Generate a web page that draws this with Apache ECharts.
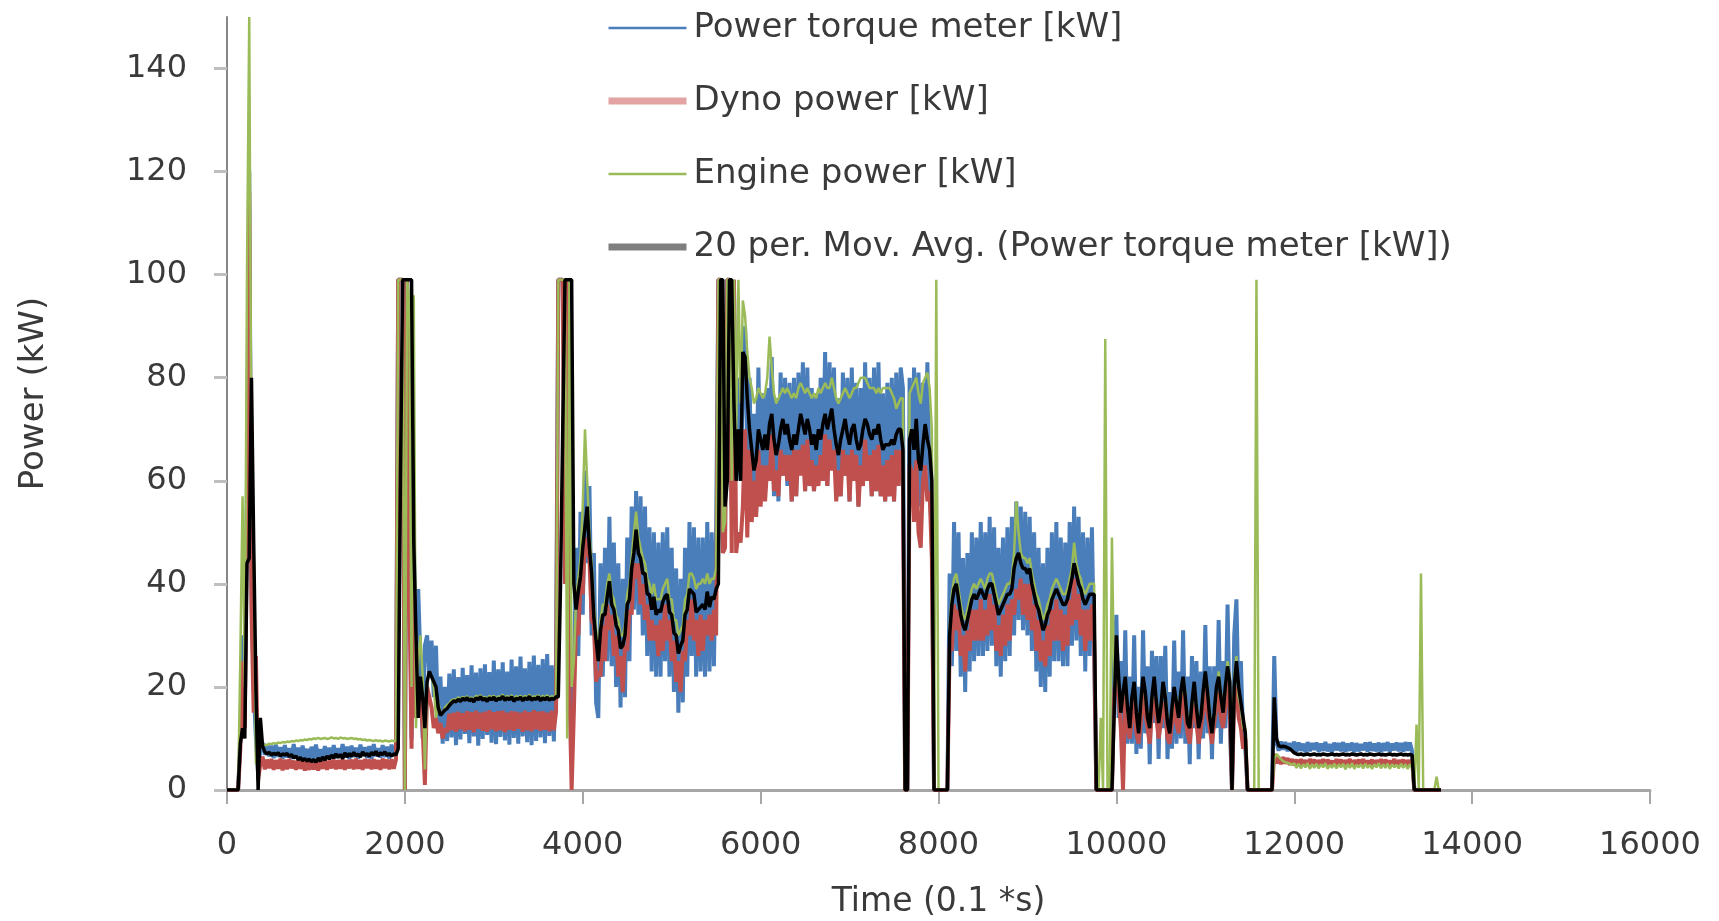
<!DOCTYPE html>
<html>
<head>
<meta charset="utf-8">
<title>Power</title>
<script src="https://cdn.jsdelivr.net/npm/echarts@6/dist/echarts.min.js"></script>
<style>
html, body { margin: 0; padding: 0; background: #fff; }
#main { width: 1719px; height: 921px; }
</style>
</head>
<body>
<div id="main"></div>
<script>
// samples every 25 (0.1 s) starting at 0
var timeStep = 25;
var xTicks = [0, 2000, 4000, 6000, 8000, 10000, 12000, 14000, 16000];
var yTicks = [0, 20, 40, 60, 80, 100, 120, 140];

var powerTorque = [
    0,0,0,0,0,0,
    10,30,15,60,120,40,20,10,3,8,
    // 400 - 1900
    9.2,6.8,8.9,6.5,8.6,6.2,8.8,6.4,8.3,6.1,
    8.7,6.3,8.1,6.0,8.9,6.5,8.2,5.9,8.6,6.2,
    8.0,5.8,8.4,6.1,8.8,6.3,7.9,5.9,8.5,6.4,
    8.2,6.0,8.7,6.2,8.1,6.5,8.9,6.3,8.4,6.0,
    8.6,6.4,8.2,6.1,8.8,6.6,8.3,6.2,8.5,6.0,
    8.9,6.5,8.1,6.3,8.7,6.4,8.4,6.1,8.8,6.5,
    8.6,
    99,99,99,0,99,60,10,50,
    20,39,25,10,28,30,22,29,18,28,12,22,9,20,
    // 2475 - 3700
    9.5,22.6,10.2,23.4,8.7,21.9,9.8,23.7,10.9,22.3,
    9.1,24.2,10.4,22.8,8.6,23.6,9.9,24.4,10.7,22.9,
    9.2,25.1,8.9,23.4,10.3,24.8,9.6,23.0,8.8,25.3,
    10.1,24.0,9.0,25.9,10.4,23.6,9.3,24.9,8.7,26.1,
    9.5,24.3,10.2,25.4,9.1,26.4,10.5,24.2,9.4,25.6,
    99,99,99,60,99,30,5,20,
    // 3925 - 5500
    47,26,54,34,62,44,59,30,46,17,
    14,44,22,47,25,53,24,48,20,44,
    16,41,18,49,25,55,35,58,34,57,
    30,55,26,51,23,50,22,48,22,50,
    25,51,22,47,19,43,15,41,17,47,
    22,52,26,51,22,49,23,49,22,52,
    23,50,24,51,
    99,99,48,50,99,99,55,99,60,80,60,78,
    // 5825 - 7575
    90,64,80,56,73,54,82,58,77,58,
    78,60,84,57,76,56,81,61,80,59,
    79,56,80,57,81,62,83,58,82,59,
    78,58,77,60,80,60,85,59,83,63,
    82,57,76,57,81,61,80,56,82,60,
    79,55,78,59,83,60,80,57,82,58,
    83,57,77,56,79,57,80,56,81,59,
    82,
    78,0,0,80,
    58,82,60,81,55,79,62,83,58,50,
    0,0,0,0,0,0,0,
    // 8125 - 9750
    42,24,52,27,50,22,45,19,46,23,
    50,25,49,26,52,26,50,27,53,28,
    51,24,47,22,49,25,51,26,53,30,
    56,33,55,31,54,30,53,27,50,23,
    47,20,44,19,47,22,50,25,52,25,
    49,24,48,24,52,28,55,29,53,26,
    50,23,49,26,51,26,
    0,0,0,0,0,0,0,0,25,
    // 10000 - 11275
    34,14,25,10,31,9,22,9,30,7,
    20,8,31,11,24,5,27,13,26,6,
    26,12,28,6,19,8,29,9,23,10,
    31,9,22,5,26,12,25,6,23,10,
    32,11,24,6,24,12,33,9,25,12,
    36,13,
    0,30,37,15,25,10,8,0,0,0,0,0,0,0,0,0,0,0,0,
    // 11775 - 13325
    26,9.2,7.6,9.4,7.8,9.3,7.5,9.1,7.7,9.4,
    7.4,9.2,7.6,9.0,7.3,9.3,7.5,9.1,7.8,9.2,
    7.4,9.0,7.6,9.3,7.5,8.9,7.3,9.2,7.7,9.1,
    7.5,9.3,7.4,9.0,7.6,9.2,7.3,9.1,7.5,8.9,
    7.7,9.2,7.4,9.3,7.6,9.0,7.5,9.2,7.3,9.1,
    7.6,9.3,7.4,9.0,7.7,9.2,7.5,9.1,7.4,9.3,
    7.6,9.2,7.5,
    0,0,0,0,0,0,0,0,0,0,0,0,0
];

var dynoPower = [
    0,0,0,0,0,0,
    8,25,12,55,116,35,15,26,2,5,
    6.5,4.0,5.9,4.2,6.0,3.9,5.8,4.1,6.1,3.8,
    5.9,4.0,6.0,4.2,5.7,3.9,5.8,4.1,5.6,3.8,
    5.5,3.9,5.7,4.0,5.4,3.8,5.6,4.1,5.8,3.9,
    5.7,4.2,5.9,4.0,5.8,4.1,6.0,3.9,5.8,4.2,
    5.9,4.0,6.1,4.1,5.8,3.9,6.0,4.2,5.9,4.0,
    6.0,4.1,5.8,3.9,6.1,4.2,5.9,4.0,6.0,4.1,
    5.9,
    99,99,99,0,99,40,8,45,
    14,22,18,12,1,20,18,16,12,14,11,13,10,12,
    11.2,14.8,11.6,15.0,11.3,15.2,11.8,14.9,11.4,15.3,
    11.7,15.1,11.2,15.4,11.9,15.0,11.5,15.2,11.3,15.5,
    11.8,15.1,11.4,15.3,11.6,15.4,11.2,15.0,11.7,15.3,
    11.5,15.2,11.9,15.0,11.3,15.4,11.6,15.1,11.4,15.5,
    11.8,15.2,11.5,15.3,11.7,15.0,11.4,15.4,11.6,15.2,
    99,99,99,40,99,20,0,15,
    33,30,40,38,49,46,45,33,32,21,
    23,22,32,25,36,31,34,26,30,22,
    26,19,28,27,35,34,44,41,44,36,
    40,33,36,29,33,29,32,26,33,27,
    36,29,33,25,29,21,25,19,27,25,
    33,30,37,29,33,26,34,27,33,30,
    34,29,35,30,
    99,99,46,47,99,99,46,99,46,50,48,55,
    70,49,66,52,60,53,66,55,63,56,
    63,60,69,58,62,57,66,61,65,60,
    65,56,66,57,66,61,67,58,68,59,
    64,58,63,59,65,60,69,59,68,62,
    66,56,62,57,66,61,65,56,66,60,
    65,55,63,59,68,60,65,57,66,58,
    67,57,63,56,64,57,65,56,66,59,
    66,
    60,0,0,63,
    62,52,64,50,47,60,63,56,58,45,
    0,0,0,0,0,0,0,
    28,27,36,31,35,26,30,23,31,27,
    35,29,35,29,37,29,35,30,38,31,
    36,27,32,26,34,28,36,29,37,34,
    39,37,41,34,40,33,40,31,36,27,
    33,25,29,24,32,26,35,29,37,29,
    35,27,34,28,37,32,41,33,38,30,
    35,27,35,29,36,29,
    0,0,0,0,0,0,0,0,18,
    26,18,12,0,19,12,10,14,18,11,
    9,13,19,15,12,9,15,18,14,10,
    13,17,15,10,9,13,17,13,11,15,
    19,14,11,9,14,17,13,9,12,15,
    20,15,12,9,13,16,19,14,12,16,
    21,16,
    0,18,20,14,12,8,10,0,0,0,0,0,0,0,0,0,0,0,0,
    7,5.2,6.3,5.0,6.4,5.1,6.2,4.9,6.0,4.8,
    5.9,4.7,6.0,4.8,5.8,4.7,6.0,4.9,5.9,4.6,
    5.8,4.8,6.0,4.7,5.9,4.9,5.7,4.6,6.0,4.8,
    5.9,4.7,5.8,4.9,6.0,4.6,5.8,4.8,5.9,4.7,
    6.0,4.8,5.7,4.9,5.9,4.6,5.8,4.8,6.0,4.7,
    5.9,4.8,5.7,4.9,6.0,4.7,5.8,4.8,5.9,4.6,
    5.8,4.8,5.9,
    0,0,0,0,0,0,0,0,0,0,0,0,0
];

var enginePower = [
    0,0,0,0,0,0,
    26,57,20,101,150,60,48,5,12,9,
    8.6,8.8,8.7,9.0,8.9,9.1,9.0,9.2,9.1,9.3,
    9.2,9.4,9.3,9.5,9.4,9.6,9.5,9.7,9.6,9.8,
    9.7,9.9,9.8,10.0,9.9,10.1,9.9,10.0,10.1,9.9,
    10.0,10.2,10.0,10.1,9.9,10.2,10.0,10.1,9.9,10.0,
    10.1,9.9,10.0,9.8,9.9,9.7,9.8,9.6,9.7,9.6,
    9.5,9.7,9.5,9.6,9.4,9.6,9.5,9.4,9.6,9.5,
    9.5,
    99,99,99,0,99,95,20,96,
    12,25,30,22,4,21,23,22,20,14,17,15,15,16,
    16.5,16.8,17.4,17.6,17.5,18.0,17.6,18.1,17.8,18.2,
    17.7,18.0,17.5,18.3,17.9,18.4,17.8,18.1,17.6,18.3,
    17.9,18.3,17.7,18.2,18.0,18.5,17.8,18.3,17.9,18.4,
    17.6,18.2,18.0,18.3,17.7,18.3,17.9,18.5,17.8,18.2,
    18.0,18.4,17.7,18.3,17.9,18.4,17.8,18.2,18.0,18.5,
    99,99,99,99,10,99,20,25,
    37,41,45,55,70,60,50,44,36,31,
    27,33,36,36,40,42,38,37,34,33,
    30,30,32,38,40,45,50,54,49,47,
    45,44,41,40,38,40,37,37,37,39,
    40,41,37,37,33,33,30,31,32,37,
    38,42,42,41,39,40,40,41,40,42,
    40,41,41,43,
    99,99,50,52,99,99,60,99,70,99,75,95,
    92,85,80,78,75,76,78,77,76,77,
    80,88,82,77,75,76,77,78,77,78,
    77,76,77,76,78,79,78,77,78,77,
    76,77,76,78,77,78,79,78,78,80,
    78,76,75,76,77,78,77,76,77,78,
    78,79,80,80,80,79,78,78,78,77,
    78,77,78,78,78,78,77,76,74,75,
    76,
    76,0,0,77,
    78,79,80,77,75,79,80,81,78,70,
    0,99,0,0,0,0,0,
    32,38,41,42,39,36,34,33,35,37,
    39,40,39,40,41,40,39,41,42,42,
    40,38,36,37,38,39,40,40,41,46,
    56,50,46,45,45,44,45,42,40,38,
    37,35,33,34,36,37,39,40,41,40,
    39,38,38,39,41,43,48,44,42,41,
    39,38,39,40,40,40,
    0,0,14,0,87.5,0,0,49,20,
    28,20,16,18,21,15,13,17,20,16,
    12,16,21,18,15,13,17,21,18,14,
    15,20,19,14,12,15,19,18,15,18,
    21,19,14,13,16,20,17,13,14,18,
    22,20,15,12,14,19,23,19,16,19,
    25,22,
    0,22,26,18,16,12,12,0,0,0,0,99,0,0,0,0,0,0,0,
    6,7.0,6.5,6.0,5.6,5.4,5.3,5.1,4.9,5.2,
    4.3,5.1,4.2,5.0,4.4,5.2,4.1,5.0,4.3,5.1,
    4.2,5.0,4.4,5.2,4.1,4.9,4.3,5.1,4.2,5.0,
    4.4,5.1,4.0,5.0,4.3,5.2,4.1,4.9,4.4,5.0,
    4.2,5.1,4.3,4.9,4.1,5.0,4.4,5.2,4.2,5.0,
    4.3,5.1,4.1,5.0,4.4,4.9,4.2,5.1,4.3,5.0,
    4.1,5.0,4.3,
    0,12.7,0,42,0,0,0,0,0,0,2.6,0,0
];

var movingAvg = [
    0,0,0,0,0,0,
    9,12,10,44,45,80,48,20,0,14,
    8.5,7.4,7.0,7.3,6.8,7.1,6.9,7.2,6.6,7.0,
    6.8,7.1,6.5,6.9,6.2,6.6,5.9,6.3,5.7,6.1,
    5.6,6.0,5.5,5.9,5.4,6.2,5.6,6.4,5.8,6.6,
    6.0,6.8,6.2,7.0,6.3,6.9,6.1,7.2,6.4,7.1,
    6.5,7.3,6.6,7.0,6.4,7.4,6.7,7.1,6.5,7.3,
    6.8,7.5,6.6,7.2,6.9,7.4,6.7,7.1,6.6,7.0,
    6.8,
    8,60,99,99,99,99,99,48,
    30,14,22,18,12,21,23,22,21,20,16,14.5,15,15.5,
    15.8,16.4,16.9,17.3,17.1,17.6,17.2,17.8,17.4,17.9,
    17.3,17.7,17.1,17.9,17.5,18.1,17.4,17.8,17.2,17.9,
    17.5,18.0,17.3,17.8,17.6,18.2,17.4,17.9,17.5,18.1,
    17.2,17.8,17.6,18.0,17.3,17.9,17.5,18.2,17.4,17.8,
    17.6,18.1,17.3,17.9,17.5,18.0,17.4,17.8,17.6,18.1,
    18,40,70,99,99,99,99,40,
    35,38.5,41.5,47,51,55,47,42,33.5,29,
    25,31,34,34,37.5,40.5,36,35,32,31,
    27.5,28,30,36,37,43,46,50.5,46,45,
    42,42,38,38,35,37.5,34,35,34.5,36.5,
    37.5,38,34.5,34,30.5,30,26.5,28,29,34,
    35,39,38.5,38,34.5,35,35.5,36,35,38.5,
    35.5,37.5,37,39,
    40,99,99,55,60,99,99,75,60,70,60,85,
    84,76,70,66,62,64,70,68,66,69,
    66,71,73,68,65,67,70,72,69,71,
    68,66,69,67,70,73,71,69,72,70,
    67,69,66,70,68,71,73,70,72,74,
    70,67,65,68,70,72,69,67,70,71,
    68,66,67,70,72,71,69,68,70,69,
    71,68,66,67,67,67,68,67,69,70,
    70,
    66,0,0,68,
    70,66,72,64,62,67,71,68,66,60,
    0,0,0,0,0,0,0,
    30,36,39,40,37,34,32,31,33,35,
    37,38,37,38,39,38,37,39,40,40,
    38,36,34,35,36,37,38,38,39,43,
    45,46,44,43,43,42,43,40,38,36,
    35,33,31,32,34,35,37,38,39,38,
    37,36,36,37,39,41,44,42,40,39,
    37,36,37,38,38,38,
    0,0,0,0,0,0,0,0,15,
    30,22,15,19,22,16,12,18,21,15,
    11,17,22,19,14,12,18,22,17,13,
    16,21,18,13,11,16,20,17,14,19,
    22,18,13,12,17,21,16,12,14,19,
    23,19,14,11,15,20,22,18,15,20,
    24,21,
    0,20,25,20,17,14,11,0,0,0,0,0,0,0,0,0,0,0,0,
    18,10,8.6,8.4,8.5,8.4,8.2,8.0,7.6,7.2,
    7.0,6.9,7.0,6.8,6.9,7.0,6.8,6.9,7.0,6.8,
    6.9,6.8,7.0,6.9,6.8,6.9,7.0,6.8,6.9,6.8,
    6.9,7.0,6.8,6.9,6.8,7.0,6.9,6.8,6.9,7.0,
    6.8,6.9,6.8,7.0,6.9,6.8,6.9,7.0,6.8,6.9,
    6.8,6.9,7.0,6.8,6.9,6.8,6.9,7.0,6.8,6.9,
    6.8,6.9,6.8,
    0,0,0,0,0,0,0,0,0,0,0,0,0
];

if (powerTorque.length != dynoPower.length || powerTorque.length != enginePower.length || powerTorque.length != movingAvg.length) {
    throw new Error('length mismatch ' + powerTorque.length + ' ' + dynoPower.length + ' ' + enginePower.length + ' ' + movingAvg.length);
}

function toPairs(values) {
    var out = [];
    for (var i = 0; i < values.length; i++) {
        out.push([i * timeStep, values[i]]);
    }
    return out;
}

var font = 'DejaVu Sans';
var textColor = '#3a3a3a';
var noDot = { opacity: 0 };

var myChart = echarts.init(document.getElementById('main'));
var option = {
    animation: false,
    backgroundColor: '#ffffff',
    grid: { left: 227, right: 69, top: 17, bottom: 131, outerBoundsMode: 'none' },
    legend: {
        orient: 'vertical',
        left: 600,
        top: 5,
        itemWidth: 78,
        itemHeight: 14,
        itemGap: 37,
        textStyle: { fontFamily: font, fontSize: 34, color: textColor, lineHeight: 36, padding: [0, 0, 0, 2] },
        data: [
            { name: 'Power torque meter [kW]', itemStyle: noDot, lineStyle: { color: '#4A7EBB', width: 2.5 } },
            { name: 'Dyno power [kW]', itemStyle: noDot, lineStyle: { color: '#E3A3A2', width: 7 } },
            { name: 'Engine power [kW]', itemStyle: noDot, lineStyle: { color: '#9BBB59', width: 2.5 } },
            { name: '20 per. Mov. Avg. (Power torque meter [kW])', itemStyle: noDot, lineStyle: { color: '#7F7F7F', width: 7 } }
        ]
    },
    xAxis: {
        type: 'value',
        min: 0,
        max: 16000,
        interval: 2000,
        name: 'Time (0.1 *s)',
        nameLocation: 'middle',
        nameGap: 96,
        nameTextStyle: { fontFamily: font, fontSize: 33, color: textColor },
        axisLine: { lineStyle: { color: '#A6A6A6', width: 3 } },
        axisTick: { length: 14, lineStyle: { color: '#A6A6A6', width: 2 }, customValues: xTicks },
        axisLabel: { margin: 40, fontFamily: font, fontSize: 32, color: textColor, customValues: xTicks,
            formatter: function (v) { return String(v); } },
        splitLine: { show: false }
    },
    yAxis: {
        type: 'value',
        min: 0,
        max: 150,
        name: 'Power (kW)',
        nameLocation: 'middle',
        nameGap: 176,
        nameTextStyle: { fontFamily: font, fontSize: 34, color: textColor, padding: [0, 0, 0, 20] },
        axisLine: { show: true, lineStyle: { color: '#878787', width: 2 } },
        axisTick: { show: true, length: 13, lineStyle: { color: '#BFBFBF', width: 3 }, customValues: yTicks },
        axisLabel: { margin: 40, fontFamily: font, fontSize: 32, color: textColor, customValues: yTicks },
        splitLine: { show: false }
    },
    series: [
        {
            name: 'Power torque meter [kW]',
            type: 'line',
            symbol: 'none',
            data: toPairs(powerTorque),
            lineStyle: { color: '#4A7EBB', width: 4 },
            itemStyle: { color: '#4A7EBB' }
        },
        {
            name: 'Dyno power [kW]',
            type: 'line',
            symbol: 'none',
            data: toPairs(dynoPower),
            lineStyle: { color: '#C0504D', width: 4 },
            itemStyle: { color: '#C0504D' }
        },
        {
            name: 'Engine power [kW]',
            type: 'line',
            symbol: 'none',
            data: toPairs(enginePower),
            lineStyle: { color: '#9BBB59', width: 2.5 },
            itemStyle: { color: '#9BBB59' }
        },
        {
            name: '20 per. Mov. Avg. (Power torque meter [kW])',
            type: 'line',
            symbol: 'none',
            data: toPairs(movingAvg),
            lineStyle: { color: '#000000', width: 3.5 },
            itemStyle: { color: '#000000' }
        }
    ]
};
myChart.setOption(option);
</script>
</body>
</html>
